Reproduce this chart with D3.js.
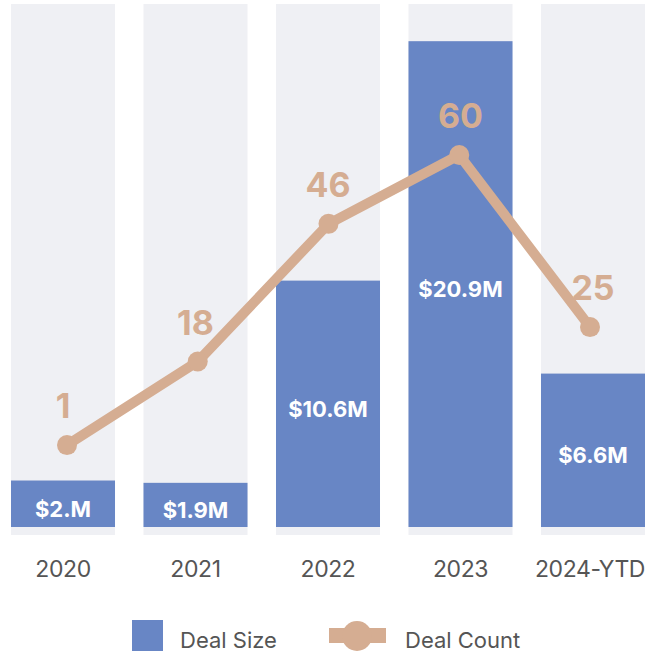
<!DOCTYPE html>
<html>
<head>
<meta charset="utf-8">
<script src="https://cdn.jsdelivr.net/npm/d3@7"></script>
<style>
  body { margin: 0; background: #fff; }
  svg { display: block; font-family: Inter, "Liberation Sans", sans-serif; }
</style>
</head>
<body>
<div id="chart"></div>
<script>
// chart data
const years = ['2020', '2021', '2022', '2023', '2024-YTD'];
const dealSize = [2.0, 1.9, 10.6, 20.9, 6.6];       // $M
const dealSizeLabels = ['$2.M', '$1.9M', '$10.6M', '$20.9M', '$6.6M'];
const dealCount = [1, 18, 46, 60, 25];
const legendItems = ['Deal Size', 'Deal Count'];

const width = 650;
const height = 656;

const blue = '#6886c5';
const tan = '#d5ad92';
const bgGray = '#eff0f4';

const svg = d3.select('#chart')
    .append('svg')
    .attr('width', width)
    .attr('height', height);

// scales
const x = d3.scaleBand().domain(years).range([11, 645]).paddingInner(0.215).paddingOuter(0);
// line points sit slightly off the band centres in the original
const xPoint = d3.scalePoint().domain(years).range([67, 590]);
const ySize = d3.scaleLinear().domain([0, 22.5]).range([527, 4]);
const yCount = d3.scaleLinear().domain([0, 60]).range([450, 155]);

const rows = years.map((year, i) => ({
    year,
    size: dealSize[i],
    sizeLabel: dealSizeLabels[i],
    count: dealCount[i],
}));

// grey background columns
svg.append('g')
    .selectAll('rect')
    .data(rows)
    .join('rect')
    .attr('x', (d) => x(d.year))
    .attr('y', 4)
    .attr('width', x.bandwidth())
    .attr('height', 535 - 4)
    .attr('fill', bgGray);

// deal size bars
svg.append('g')
    .selectAll('rect')
    .data(rows)
    .join('rect')
    .attr('x', (d) => x(d.year))
    .attr('y', (d) => ySize(d.size))
    .attr('width', x.bandwidth())
    .attr('height', (d) => ySize(0) - ySize(d.size))
    .attr('fill', blue);

// bar labels, centred in each bar
svg.append('g')
    .selectAll('text')
    .data(rows)
    .join('text')
    .attr('x', (d) => x(d.year) + x.bandwidth() / 2)
    .attr('y', (d) => (ySize(d.size) + ySize(0)) / 2 + 13)
    .attr('text-anchor', 'middle')
    .attr('fill', '#fff')
    .attr('font-size', 22)
    .attr('font-weight', 700)
    .text((d) => d.sizeLabel);

// deal count line
const line = d3.line()
    .x((d) => xPoint(d.year))
    .y((d) => yCount(d.count));

svg.append('path')
    .datum(rows)
    .attr('d', line)
    .attr('fill', 'none')
    .attr('stroke', tan)
    .attr('stroke-width', 10)
    .attr('stroke-linejoin', 'round');

svg.append('g')
    .selectAll('circle')
    .data(rows)
    .join('circle')
    .attr('cx', (d) => xPoint(d.year))
    .attr('cy', (d) => yCount(d.count))
    .attr('r', 10)
    .attr('fill', tan);

// count labels
svg.append('g')
    .selectAll('text')
    .data(rows)
    .join('text')
    .attr('x', (d) => x(d.year) + x.bandwidth() / 2)
    .attr('y', (d) => yCount(d.count) - 27)
    .attr('text-anchor', 'middle')
    .attr('fill', tan)
    .attr('font-size', 34)
    .attr('font-weight', 700)
    .text((d) => d.count);

// x axis (labels only)
const xAxis = svg.append('g')
    .attr('transform', 'translate(0, 535)')
    .call(d3.axisBottom(x).tickSize(0).tickPadding(26));
xAxis.select('.domain').remove();
xAxis.selectAll('text')
    .attr('font-family', 'Inter, "Liberation Sans", sans-serif')
    .attr('font-size', 23)
    .attr('letter-spacing', '-0.4px')
    .attr('fill', '#555');
// last label is nudged in so it fits the page
xAxis.selectAll('.tick:last-of-type text').attr('dx', -3);

// legend
const legend = svg.append('g');
legend.append('rect')
    .attr('x', 132).attr('y', 620)
    .attr('width', 31).attr('height', 31)
    .attr('fill', blue);
legend.append('text')
    .attr('x', 180).attr('y', 648)
    .attr('font-size', 22)
    .attr('fill', '#555')
    .text(legendItems[0]);

legend.append('rect')
    .attr('x', 329).attr('y', 628)
    .attr('width', 57).attr('height', 15)
    .attr('fill', tan);
legend.append('circle')
    .attr('cx', 357).attr('cy', 636)
    .attr('r', 15)
    .attr('fill', tan);
legend.append('text')
    .attr('x', 405).attr('y', 648)
    .attr('font-size', 22)
    .attr('fill', '#555')
    .text(legendItems[1]);
</script>
</body>
</html>
